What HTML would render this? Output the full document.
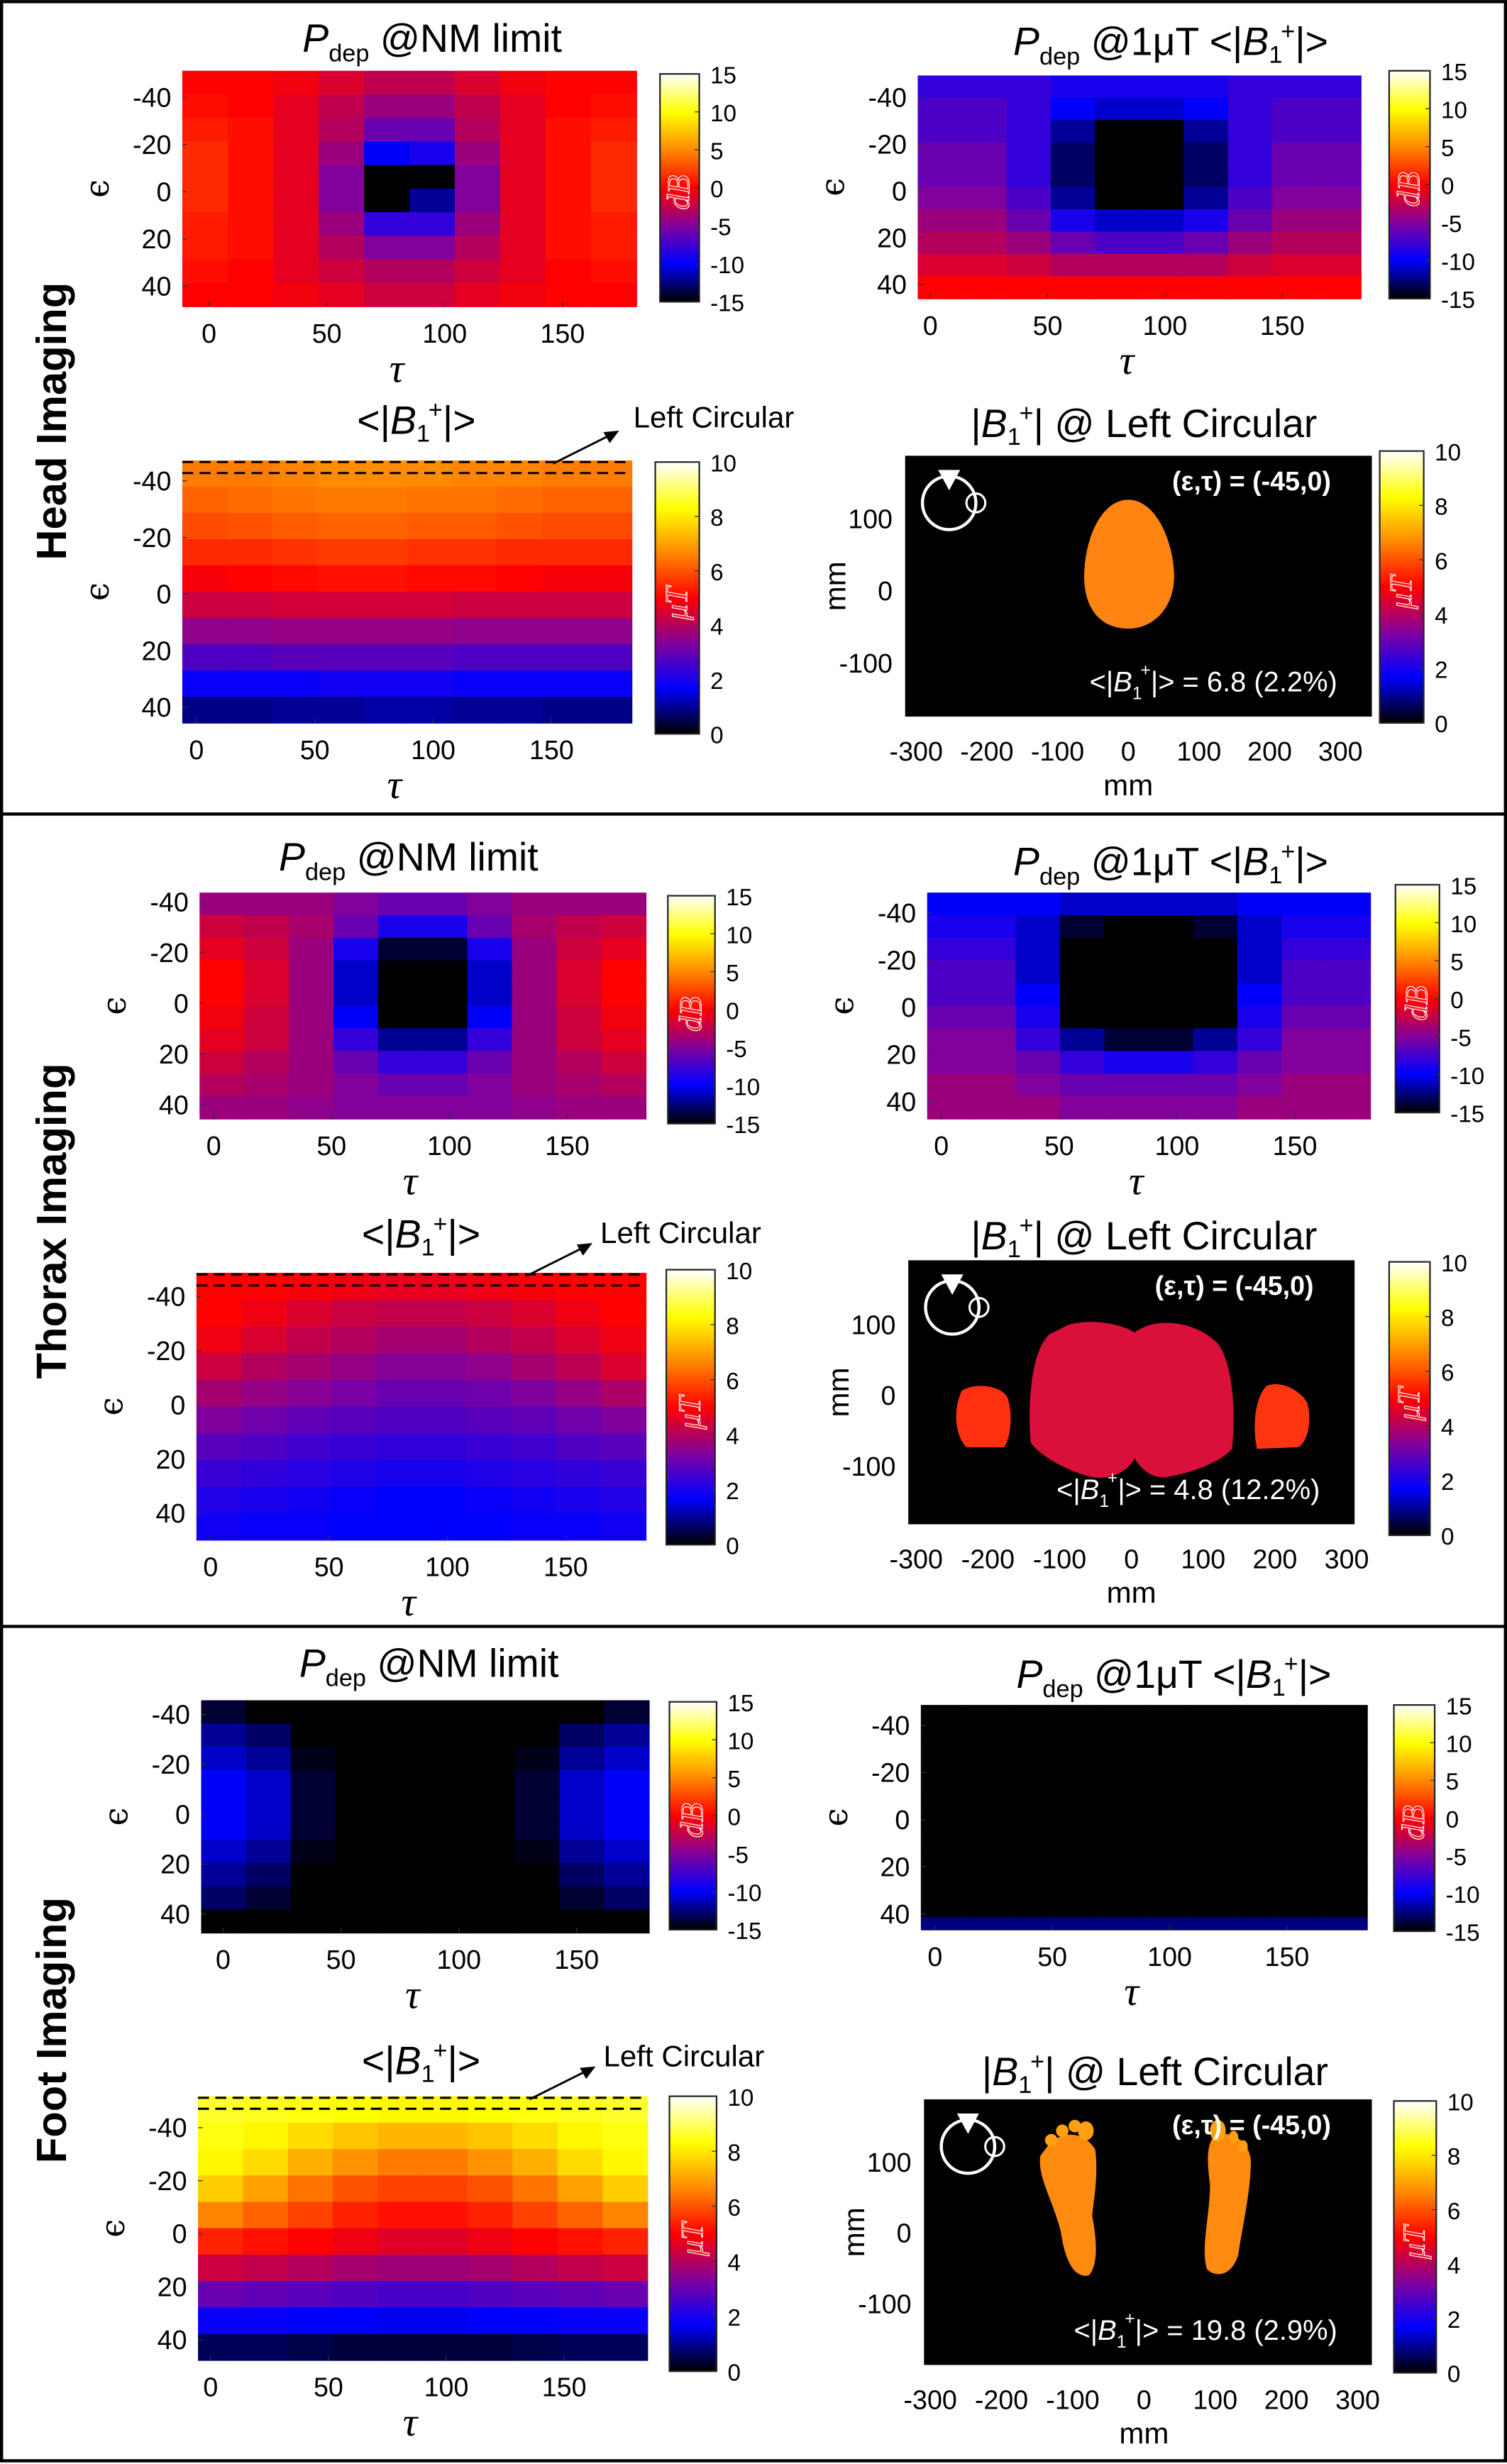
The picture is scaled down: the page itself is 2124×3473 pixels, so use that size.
<!DOCTYPE html>
<html><head><meta charset="utf-8"><style>
html,body{margin:0;padding:0;background:#fff}
svg{display:block}
text{font-family:"Liberation Sans Narrow","Liberation Sans",sans-serif}
</style></head><body>
<svg id="fig" xmlns="http://www.w3.org/2000/svg" width="2124" height="3473" viewBox="0 0 959 1568">
<rect x="0" y="0" width="959" height="1568" fill="#fff"/>
<rect x="1" y="1" width="957" height="1565" fill="none" stroke="#000" stroke-width="2"/>
<line x1="0" y1="518" x2="959" y2="518" stroke="#000" stroke-width="2"/>
<line x1="0" y1="1035" x2="959" y2="1035" stroke="#000" stroke-width="2"/>
<text transform="translate(42,268) rotate(-90)" text-anchor="middle" font-size="27" font-weight="bold" style="font-family:'Liberation Sans',sans-serif">Head Imaging</text>
<text transform="translate(42,777) rotate(-90)" text-anchor="middle" font-size="27" font-weight="bold" style="font-family:'Liberation Sans',sans-serif">Thorax Imaging</text>
<text transform="translate(42,1292) rotate(-90)" text-anchor="middle" font-size="27" font-weight="bold" style="font-family:'Liberation Sans',sans-serif">Foot Imaging</text>
<defs>
<linearGradient id="cmapgrad" x1="0" y1="1" x2="0" y2="0">
<stop offset="0" stop-color="#000000"/><stop offset="0.17" stop-color="#0000ff"/><stop offset="0.33" stop-color="#80009e"/><stop offset="0.5" stop-color="#ff0000"/><stop offset="0.67" stop-color="#ff8c00"/><stop offset="0.83" stop-color="#ffff00"/><stop offset="1" stop-color="#ffffff"/>
</linearGradient>
</defs>
</svg>
<script>
// ---- data (rows: epsilon -45 .. 45 top to bottom, cols: tau 0 .. 180) ----
const tauTicks=[0,50,100,150];
const epsTicks=[-40,-20,0,20,40];
const dbTicks=[15,10,5,0,-5,-10,-15];
const utTicks=[10,8,6,4,2,0];
const mmXTicks=[-300,-200,-100,0,100,200,300];
const mmYTicks=[100,0,-100];

const headNM=[
[0,0,-0.5,-1.5,-2.5,-2.5,-1.5,-0.5,0,0],
[0.5,0,-1,-2.5,-4,-4,-2.5,-1,0,0.5],
[1,0.5,-1,-3,-6,-6,-3,-1,0.5,1],
[1.5,0.5,-1,-4,-10,-9,-4,-1,0.5,1.5],
[1.5,0.5,-1,-5,-15,-15,-5,-1,0.5,1.5],
[1.5,0.5,-1,-5,-15,-12,-5,-1,0.5,1.5],
[1,0.5,-1,-4,-8,-8,-4,-1,0.5,1],
[1,0.5,-1,-3,-5,-5,-3,-1,0.5,1],
[0.5,0,-1,-2,-3,-3,-2,-1,0,0.5],
[0,0,-0.5,-1,-2,-2,-1,-0.5,0,0]];
const head1uT=[
[-8,-8,-8,-9,-9,-9,-9,-8,-8,-8],
[-7,-7,-8,-10,-11,-11,-10,-8,-7,-7],
[-7,-7,-8,-12,-15,-15,-12,-8,-7,-7],
[-6,-6,-8,-13,-15,-15,-13,-8,-6,-6],
[-6,-6,-8,-13,-15,-15,-13,-8,-6,-6],
[-5,-5,-7,-12,-15,-15,-12,-7,-5,-5],
[-4,-4,-6,-9,-11,-11,-9,-6,-4,-4],
[-3,-3,-4,-6,-7,-7,-6,-4,-3,-3],
[-1.5,-1.5,-2,-3,-3,-3,-3,-2,-1.5,-1.5],
[0,0,0,0,0,0,0,0,0,0]];
const headB1=[
[6.5,6.5,6.6,6.7,6.7,6.7,6.6,6.6,6.5,6.5],
[6.2,6.3,6.4,6.5,6.5,6.4,6.4,6.3,6.2,6.2],
[5.9,6.0,6.1,6.2,6.2,6.1,6.1,6.0,5.9,5.9],
[5.5,5.5,5.6,5.7,5.7,5.6,5.6,5.5,5.5,5.5],
[4.9,5.0,5.1,5.2,5.2,5.1,5.1,5.0,4.9,4.9],
[4.3,4.3,4.4,4.4,4.4,4.4,4.3,4.3,4.3,4.3],
[3.5,3.5,3.6,3.6,3.6,3.6,3.5,3.5,3.5,3.5],
[2.7,2.7,2.8,2.8,2.8,2.8,2.7,2.7,2.7,2.7],
[1.8,1.8,1.8,1.9,1.9,1.9,1.8,1.8,1.8,1.8],
[0.9,0.9,1.0,1.0,1.1,1.1,1.0,1.0,0.9,0.9]];
const thoraxNM=[
[-4,-4,-4,-5,-6,-6,-5,-4,-4,-4],
[-2,-2.5,-3.5,-6,-9,-9,-6,-3.5,-2.5,-2],
[-1,-2,-4,-9,-14,-14,-9,-4,-2,-1],
[0,-1.5,-4,-11,-15,-15,-11,-4,-1.5,0],
[0,-1.5,-4,-11,-15,-15,-11,-4,-1.5,0],
[-0.5,-2,-4,-10,-15,-15,-10,-4,-2,-0.5],
[-1,-2,-4,-8,-12,-12,-8,-4,-2,-1],
[-2,-3,-4,-6,-8,-8,-6,-4,-3,-2],
[-3,-3.5,-4,-5,-6,-6,-5,-4,-3.5,-3],
[-4,-4,-4.5,-5,-5,-5,-5,-4.5,-4,-4]];
const thorax1uT=[
[-10,-10,-10,-11,-11,-11,-11,-10,-10,-10],
[-9,-9,-11,-14,-15,-15,-14,-11,-9,-9],
[-8,-8,-11,-15,-15,-15,-15,-11,-8,-8],
[-7,-7,-11,-15,-15,-15,-15,-11,-7,-7],
[-7,-7,-10,-15,-15,-15,-15,-10,-7,-7],
[-6,-6,-9,-15,-15,-15,-15,-9,-6,-6],
[-5,-5,-8,-12,-14,-14,-12,-8,-5,-5],
[-5,-5,-6,-8,-9,-9,-8,-6,-5,-5],
[-4,-4,-5,-6,-6,-6,-6,-5,-4,-4],
[-4,-4,-4,-5,-5,-5,-5,-4,-4,-4]];
const thoraxB1=[
[5.0,5.0,4.9,4.8,4.7,4.7,4.8,4.9,5.0,5.0],
[5.0,4.8,4.5,4.3,4.2,4.2,4.3,4.5,4.8,5.0],
[4.8,4.5,4.2,4.0,3.8,3.8,4.0,4.2,4.5,4.8],
[4.3,4.0,3.8,3.6,3.4,3.4,3.5,3.8,4.1,4.5],
[3.8,3.6,3.4,3.2,3.0,3.0,3.1,3.3,3.6,3.9],
[3.3,3.1,2.9,2.8,2.7,2.7,2.8,2.9,3.1,3.3],
[2.8,2.7,2.5,2.4,2.3,2.3,2.4,2.5,2.7,2.8],
[2.4,2.3,2.2,2.1,2.0,2.0,2.1,2.2,2.3,2.4],
[2.1,2.0,1.9,1.8,1.7,1.7,1.8,1.9,2.0,2.1],
[1.9,1.8,1.8,1.7,1.7,1.7,1.7,1.8,1.8,1.9]];
const footNM=[
[-14,-15,-15,-15,-15,-15,-15,-15,-15,-14],
[-12,-13,-15,-15,-15,-15,-15,-15,-13,-12],
[-11,-12,-14.5,-15,-15,-15,-15,-14.5,-12,-11],
[-10,-11,-14,-15,-15,-15,-15,-14,-11,-10],
[-10,-11,-14,-15,-15,-15,-15,-14,-11,-10],
[-10,-11,-14,-15,-15,-15,-15,-14,-11,-10],
[-11,-12,-14.5,-15,-15,-15,-15,-14.5,-12,-11],
[-12,-13,-15,-15,-15,-15,-15,-15,-13,-12],
[-13,-14,-15,-15,-15,-15,-15,-15,-14,-13],
[-15,-15,-15,-15,-15,-15,-15,-15,-15,-15]];
const foot1uT=[
[-15,-15,-15,-15,-15,-15,-15,-15,-15,-15],
[-15,-15,-15,-15,-15,-15,-15,-15,-15,-15],
[-15,-15,-15,-15,-15,-15,-15,-15,-15,-15],
[-15,-15,-15,-15,-15,-15,-15,-15,-15,-15],
[-15,-15,-15,-15,-15,-15,-15,-15,-15,-15],
[-15,-15,-15,-15,-15,-15,-15,-15,-15,-15],
[-15,-15,-15,-15,-15,-15,-15,-15,-15,-15],
[-15,-15,-15,-15,-15,-15,-15,-15,-15,-15],
[-15,-15,-15,-15,-15,-15,-15,-15,-15,-15],
[-15,-15,-15,-15,-15,-15,-15,-15,-15,-15],
[-15,-15,-15,-15,-15,-15,-15,-15,-15,-15],
[-15,-15,-15,-15,-15,-15,-15,-15,-15,-15],
[-15,-15,-15,-15,-15,-15,-15,-15,-15,-15],
[-15,-15,-15,-15,-15,-15,-15,-15,-15,-15],
[-15,-15,-15,-15,-15,-15,-15,-15,-15,-15],
[-15,-15,-15,-15,-15,-15,-15,-15,-15,-15],
[-15,-15,-15,-15,-15,-15,-15,-15,-15,-15],
[-12.5,-12.5,-12.5,-12.5,-12.5,-12.5,-12.5,-12.5,-12.5,-12.5]];
const footB1=[
[8.6,8.5,8.4,8.3,8.2,8.2,8.3,8.4,8.5,8.6],
[8.4,8.2,7.8,7.5,7.3,7.3,7.5,7.8,8.2,8.4],
[8.2,7.8,7.2,6.8,6.5,6.5,6.8,7.2,7.8,8.2],
[7.6,7.0,6.4,6.0,5.8,5.8,6.0,6.4,7.0,7.6],
[6.6,6.2,5.8,5.4,5.2,5.2,5.4,5.8,6.2,6.6],
[5.4,5.2,5.0,4.8,4.6,4.6,4.8,5.0,5.2,5.4],
[4.3,4.2,4.0,3.8,3.7,3.7,3.8,4.0,4.2,4.3],
[3.0,2.9,2.8,2.7,2.6,2.6,2.7,2.8,2.9,3.0],
[1.8,1.8,1.7,1.7,1.6,1.6,1.7,1.7,1.8,1.8],
[0.6,0.6,0.5,0.4,0.4,0.4,0.4,0.5,0.6,0.6]];

const NS="http://www.w3.org/2000/svg";
const svg=document.getElementById('fig');
const stops=[[0,0,0,0],[0.17,0,0,255],[0.33,128,0,158],[0.5,255,0,0],[0.67,255,140,0],[0.83,255,255,0],[1,255,255,255]];
function cmap(t){t=Math.max(0,Math.min(1,t));for(let i=1;i<stops.length;i++){if(t<=stops[i][0]){const a=stops[i-1],b=stops[i];const f=(t-a[0])/(b[0]-a[0]);return `rgb(${Math.round(a[1]+f*(b[1]-a[1]))},${Math.round(a[2]+f*(b[2]-a[2]))},${Math.round(a[3]+f*(b[3]-a[3]))})`;}}return '#fff';}
function el(tag,attrs,parent){const e=document.createElementNS(NS,tag);for(const k in attrs)e.setAttribute(k,attrs[k]);(parent||svg).appendChild(e);return e;}
function txt(x,y,s,size,anchor,parent,extra){const t=el('text',Object.assign({x:x,y:y,'font-size':size,'text-anchor':anchor||'middle'},extra||{}),parent);t.textContent=s;return t;}
function b1Label(t){
  const parts=[['<|',{}],['B',{'font-style':'italic'}],['1',{'font-size':'0.62em','dy':'5'}],['+',{'font-size':'0.62em','dx':'-1','dy':'-15'}],['|>',{'dy':'10'}]];
  for(const [s,a] of parts){const sp=el('tspan',a,t);sp.textContent=s;}
}
function pdep(t,rest){const a=el('tspan',{'font-style':'italic'},t);a.textContent='P';const b=el('tspan',{'font-size':'0.62em','dy':'6'},t);b.textContent='dep';const c=el('tspan',{'dy':'-6'},t);c.textContent=' '+rest;}

function heatmap(name,cfg,data,vmin,vmax){
  const g=el('g',{});
  
  
  const nr=data.length,nc=data[0].length;
  const cw=cfg.w/nc,ch=cfg.h/nr;
  const xc=c=>cfg.x+c*cw, yr=r=>cfg.y+r*ch;
  for(let r=0;r<nr;r++)for(let c=0;c<nc;c++){
    const cell=el('rect',{x:xc(c).toFixed(2),y:yr(r).toFixed(2),width:(cw+0.4).toFixed(2),height:(ch+0.4).toFixed(2),fill:cmap((data[r][c]-vmin)/(vmax-vmin))},g);
    
    
  }
  const tx=v=>cfg.t0+(cfg.t150-cfg.t0)*v/150;
  const ey=v=>cfg.e0+(cfg.e40-cfg.e0)*(v+40)/80;
  for(const v of tauTicks){const t=txt(tx(v),cfg.y+cfg.h+23,String(v),17);
    el('line',{x1:tx(v),y1:cfg.y+cfg.h,x2:tx(v),y2:cfg.y+cfg.h-3,stroke:'#333','stroke-width':0.6},g);}
  for(const v of epsTicks){const t=txt(cfg.x-7,ey(v)+6,String(v),17,'end');
    el('line',{x1:cfg.x,y1:ey(v),x2:cfg.x+3,y2:ey(v),stroke:'#333','stroke-width':0.6},g);}
  const xl=txt(cfg.x+cfg.w/2-8,cfg.y+cfg.h+48,'\u03C4',26,'middle',null,{'font-style':'italic',style:'font-family:"Liberation Serif",serif'});
  
  const yl=txt(cfg.x-53,cfg.y+cfg.h/2+6,'\u03F5',21,'middle',null,{transform:`rotate(-90 ${cfg.x-53} ${cfg.y+cfg.h/2})`,style:'font-family:"DejaVu Serif",serif'});
  
}
function colorbar(name,cb,ticks,unit){
  const g=el('g',{});
  
  
  el('rect',{x:cb.x,y:cb.y,width:cb.w,height:cb.h,fill:'url(#cmapgrad)',stroke:'#222','stroke-width':1},g);
  const n=ticks.length;
  ticks.forEach((v,i)=>{const y=cb.y+cb.h*i/(n-1);txt(cb.x+cb.w+7,y+6,String(v),15,'start',g);
    el('line',{x1:cb.x+cb.w,y1:y,x2:cb.x+cb.w-3,y2:y,stroke:'#333','stroke-width':0.6},g);});
  const cx=cb.x+cb.w/2+6, cy=cb.y+cb.h*0.52;
  const u=txt(cx,cy,unit,20,'middle',g,{transform:`rotate(-90 ${cx} ${cy})`,fill:'#ff1a1a',stroke:'#fff','stroke-width':0.5,'font-style':'italic',style:'font-family:"Liberation Serif",serif'});
  
}
function title(name,x,y,kind){
  const t=el('text',{x:x,y:y,'font-size':25,'text-anchor':'middle'});
  
  if(kind==='nm')pdep(t,'@NM limit');
  else if(kind==='uT'){pdep(t,'@1\u03BCT ');b1Label(t);}
  else if(kind==='b1')b1Label(t);
  else{const s=el('tspan',{},t);s.textContent='|';const b=el('tspan',{'font-style':'italic'},t);b.textContent='B';const o=el('tspan',{'font-size':'0.62em','dy':'5'},t);o.textContent='1';const p=el('tspan',{'font-size':'0.62em','dx':'-1','dy':'-15'},t);p.textContent='+';const r=el('tspan',{'dy':'10'},t);r.textContent='| @ Left Circular';}
}
function leftCircularMarker(cfg,ax,ay,lx,ly){
  const g=el('g',{});
  
  
  el('line',{x1:cfg.x,y1:cfg.y+1,x2:cfg.x+cfg.w,y2:cfg.y+1,stroke:'#000','stroke-width':1.4,'stroke-dasharray':'7,4'},g);
  el('line',{x1:cfg.x,y1:cfg.y+8,x2:cfg.x+cfg.w,y2:cfg.y+8,stroke:'#000','stroke-width':1.4,'stroke-dasharray':'7,4'},g);
  el('line',{x1:ax,y1:cfg.y+2,x2:ax+38,y2:cfg.y-17,stroke:'#000','stroke-width':1.3},g);
  el('path',{d:`M${ax+42},${cfg.y-19} l-10,1 l4,7 z`,fill:'#000'},g);
  txt(lx,ly,'Left Circular',19,'start',g);
}
function mapPanel(name,m,shapes,val){
  const g=el('g',{});
  
  
  el('rect',{x:m.x,y:m.y,width:m.w,height:m.h,fill:'#000'},g);
  const mx=v=>m.x0+(m.x300-m.x0)*v/300, my=v=>m.y0+(m.y100-m.y0)*v/100;
  for(const v of mmXTicks){txt(mx(v),m.y+m.h+28,String(v),17,'middle',g);}
  for(const v of mmYTicks){txt(m.x-8,my(v)+6,String(v),17,'end',g);}
  txt(mx(0),m.y+m.h+50,'mm',19,'middle',g);
  const yx=m.x-38, yy=m.y+m.h/2;
  txt(yx,yy,'mm',19,'middle',g,{transform:`rotate(-90 ${yx} ${yy})`});
  for(const s of shapes){const p=el('path',{d:s.d,fill:s.fill},g);}
  const cx=m.x+28, cy=m.y+30;
  el('circle',{cx:cx,cy:cy,r:17,fill:'none',stroke:'#fff','stroke-width':2},g);
  el('circle',{cx:cx+17,cy:cy,r:6,fill:'none',stroke:'#fff','stroke-width':1.4},g);
  el('path',{d:`M${cx-7},${cy-21} L${cx+7},${cy-21} L${cx},${cy-8} z`,fill:'#fff'},g);
  const lab=el('text',{x:m.x+m.w-26,y:m.y+22,'font-size':17,'font-weight':'bold','text-anchor':'end',fill:'#fff',style:'font-family:"Liberation Sans",sans-serif'},g);
  lab.textContent='(\u03B5,\u03C4) = (-45,0)';
  const v=el('text',{x:m.x+m.w-22,y:m.y+m.h-16,'font-size':18,'text-anchor':'end',fill:'#fff'},g);
  b1Label(v);const r=el('tspan',{},v);r.textContent=' = '+val;
}

// ---- HEAD ----
title('head-nm-title',275,33,'nm');
heatmap('head-nm-heatmap',{x:116,y:45,w:289,h:150,t0:133,t150:358,e0:62,e40:182},headNM,-15,15);
colorbar('head-nm-colorbar',{x:420,y:47,w:25,h:145},dbTicks,'dB');
title('head-1ut-title',745,35,'uT');
heatmap('head-1ut-heatmap',{x:584,y:48,w:282,h:142,t0:592,t150:816,e0:62,e40:181},head1uT,-15,15);
colorbar('head-1ut-colorbar',{x:884,y:45,w:26,h:145},dbTicks,'dB');
title('head-b1-title',265,276,'b1');
heatmap('head-b1-heatmap',{x:116,y:293,w:286,h:167,t0:125,t150:351,e0:306,e40:450},headB1,0,10);
leftCircularMarker({x:116,y:293,w:286},352,0,403,272);
colorbar('head-b1-colorbar',{x:417,y:294,w:28,h:173},utTicks,'\u03BCT');
title('head-map-title',728,278,'lc');
mapPanel('head-b1-map',{x:576,y:290,w:297,h:166,x0:718,x300:853,y0:376,y100:330},
 [{d:'M718,318 C734,318 745,340 747,362 C749,385 735,400 718,400 C701,400 689,388 690,364 C691,340 702,318 718,318 Z',fill:'#ff8412'}],'6.8 (2.2%)');
colorbar('head-map-colorbar',{x:878,y:287,w:28,h:173},utTicks,'\u03BCT');

// ---- THORAX ----
title('thorax-nm-title',260,554,'nm');
heatmap('thorax-nm-heatmap',{x:127,y:568,w:284,h:144,t0:136,t150:361,e0:574,e40:703},thoraxNM,-15,15);
colorbar('thorax-nm-colorbar',{x:425,y:570,w:30,h:145},dbTicks,'dB');
title('thorax-1ut-title',745,557,'uT');
heatmap('thorax-1ut-heatmap',{x:590,y:568,w:282,h:144,t0:599,t150:824,e0:581,e40:701},thorax1uT,-15,15);
colorbar('thorax-1ut-colorbar',{x:888,y:563,w:28,h:145},dbTicks,'dB');
title('thorax-b1-title',268,794,'b1');
heatmap('thorax-b1-heatmap',{x:125,y:810,w:286,h:170,t0:134,t150:360,e0:825,e40:963},thoraxB1,0,10);
leftCircularMarker({x:125,y:810,w:286},335,0,382,791);
colorbar('thorax-b1-colorbar',{x:424,y:808,w:31,h:175},utTicks,'\u03BCT');
title('thorax-map-title',728,795,'lc');
mapPanel('thorax-b1-map',{x:578,y:802,w:284,h:168,x0:720,x300:857,y0:888,y100:843},
 [{d:'M680,843 C700,838 718,845 722,848 C735,838 760,840 775,855 C786,870 786,905 784,922 C775,932 755,938 742,940 C733,941 726,935 722,928 C718,936 708,942 695,940 C678,936 660,925 656,918 C654,900 655,860 668,849 Z',fill:'#d8103a'},
  {d:'M612,885 C620,880 636,881 641,889 C645,900 643,915 639,921 L615,921 C608,914 606,898 612,885 Z',fill:'#ff3010'},
  {d:'M806,882 C815,878 828,885 832,893 C835,905 832,918 826,921 L800,922 C797,910 798,890 806,882 Z',fill:'#ff3512'}],'4.8 (12.2%)');
colorbar('thorax-map-colorbar',{x:884,y:803,w:26,h:174},utTicks,'\u03BCT');

// ---- FOOT ----
title('foot-nm-title',273,1067,'nm');
heatmap('foot-nm-heatmap',{x:128,y:1082,w:285,h:148,t0:142,t150:367,e0:1091,e40:1218},footNM,-15,15);
colorbar('foot-nm-colorbar',{x:426,y:1083,w:30,h:145},dbTicks,'dB');
title('foot-1ut-title',747,1074,'uT');
heatmap('foot-1ut-heatmap',{x:586,y:1085,w:284,h:143,t0:595,t150:819,e0:1098,e40:1218},foot1uT,-15,15);
colorbar('foot-1ut-colorbar',{x:887,y:1085,w:26,h:144},dbTicks,'dB');
title('foot-b1-title',268,1320,'b1');
heatmap('foot-b1-heatmap',{x:126,y:1334,w:286,h:168,t0:134,t150:359,e0:1354,e40:1489},footB1,0,10);
leftCircularMarker({x:126,y:1334,w:286},337,0,384,1315);
colorbar('foot-b1-colorbar',{x:426,y:1334,w:30,h:175},utTicks,'\u03BCT');
title('foot-map-title',735,1327,'lc');
mapPanel('foot-b1-map',{x:588,y:1336,w:285,h:169,x0:728,x300:864,y0:1421,y100:1376},
 [{d:'M668,1364 C676,1356 690,1356 697,1368 C699,1385 696,1400 695,1410 C697,1420 700,1440 693,1448 C684,1450 678,1440 675,1420 C670,1400 660,1385 662,1372 Z',fill:'#ff8a10'},
  {d:'M665,1362 a4,4 0 1,0 8,0 a4,4 0 1,0 -8,0 M672,1356 a4,4 0 1,0 8,0 a4,4 0 1,0 -8,0 M680,1353 a4,4 0 1,0 8,0 a4,4 0 1,0 -8,0 M686,1356 a5,6 0 1,0 10,0 a5,6 0 1,0 -10,0',fill:'#ffa010'},
  {d:'M772,1360 C782,1354 795,1362 796,1375 C796,1395 790,1420 788,1435 C784,1448 774,1450 768,1444 C764,1430 770,1410 770,1390 C768,1375 768,1366 772,1360 Z',fill:'#ff8a10'},
  {d:'M770,1356 a5,7 0 1,0 10,0 a5,7 0 1,0 -10,0 M782,1360 a3,4 0 1,0 6,0 a3,4 0 1,0 -6,0 M788,1366 a3,4 0 1,0 6,0 a3,4 0 1,0 -6,0',fill:'#ffa010'}],'19.8 (2.9%)');
colorbar('foot-map-colorbar',{x:887,y:1337,w:27,h:173},utTicks,'\u03BCT');
</script>
</body></html>
